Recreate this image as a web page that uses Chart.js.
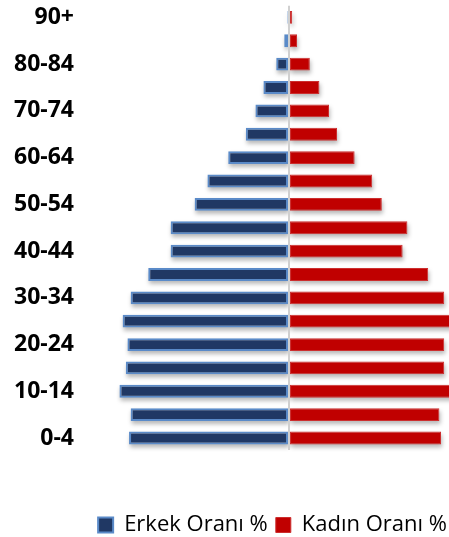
<!DOCTYPE html>
<html>
<head>
<meta charset="utf-8">
<script src="https://cdn.jsdelivr.net/npm/chart.js@4/dist/chart.umd.min.js"></script>
<style>
  html, body { margin: 0; padding: 0; background: #ffffff; }
  #wrap { width: 449px; height: 537px; }
</style>
</head>
<body>
<div id="wrap"><canvas id="c"></canvas></div>
<script>
// Age groups, youngest first
const ageGroups = ['0-4','5-9','10-14','15-19','20-24','25-29','30-34','35-39','40-44','45-49',
                   '50-54','55-59','60-64','65-69','70-74','75-79','80-84','85-89','90+'];
// Male share (%) – drawn to the left
const maleShare = [5.0, 4.95, 5.3, 5.1, 5.05, 5.2, 4.95, 4.4, 3.7, 3.7,
                   2.95, 2.55, 1.9, 1.35, 1.05, 0.8, 0.4, 0.15, 0.05];
// Female share (%) – drawn to the right
const femaleShare = [4.75, 4.7, 5.15, 4.85, 4.85, 5.1, 4.85, 4.35, 3.55, 3.7,
                     2.9, 2.6, 2.05, 1.5, 1.25, 0.95, 0.65, 0.25, 0.1];
const seriesNames = ['Erkek Oranı %', 'Kadın Oranı %'];

const shadowPlugin = {
  id: 'barShadow',
  beforeDatasetsDraw(chart) {
    const ctx = chart.ctx;
    ctx.save();
    ctx.filter = 'blur(2px)';
    ctx.fillStyle = 'rgba(0,0,0,0.28)';
    chart.data.datasets.forEach((ds, i) => {
      chart.getDatasetMeta(i).data.forEach(el => {
        const p = el.getProps(['x', 'y', 'base', 'height'], true);
        const l = Math.min(p.x, p.base), r = Math.max(p.x, p.base);
        ctx.fillRect(l + 1, p.y - p.height / 2 + 3, r - l, p.height);
      });
    });
    ctx.restore();
  }
};

new Chart(document.getElementById('c'), {
  type: 'bar',
  data: {
    labels: ageGroups,
    datasets: [
      {
        label: seriesNames[0],
        data: maleShare.map(v => -v),
        backgroundColor: '#203864',
        borderColor: '#5A8AC8',
        borderWidth: 2,
        borderSkipped: false,
        barPercentage: 0.55,
        categoryPercentage: 1
      },
      {
        label: seriesNames[1],
        data: femaleShare,
        backgroundColor: '#C00000',
        borderColor: '#CC2E2E',
        borderWidth: 1,
        borderSkipped: false,
        barPercentage: 0.55,
        categoryPercentage: 1
      }
    ]
  },
  options: {
    indexAxis: 'y',
    responsive: true,
    maintainAspectRatio: false,
    animation: false,
    layout: { padding: { left: 14, right: -6, top: 0, bottom: -9 } },
    scales: {
      x: {
        stacked: true,
        min: -6.72,
        max: 5.0,
        ticks: { display: false, stepSize: 1 },
        border: { display: false },
        grid: {
          z: 1,
          drawTicks: false,
          lineWidth: 2,
          color: ctx => (ctx.tick && ctx.tick.value === 0) ? '#D0D0D0' : 'rgba(0,0,0,0)'
        },
        afterFit: s => { s.height = 56.3; }
      },
      y: {
        stacked: true,
        reverse: true,
        border: { display: false },
        grid: { display: false, drawTicks: false },
        ticks: {
          autoSkip: false,
          padding: 0,
          color: '#000000',
          font: { family: 'Open Sans', weight: 'bold', size: 23, lineHeight: 0.5 },
          callback: function(value, index) { return index % 2 === 0 ? this.getLabelForValue(value) : ''; }
        }
      }
    },
    plugins: {
      tooltip: { enabled: false },
      legend: {
        position: 'bottom',
        align: 'end',
        labels: {
          boxWidth: 15,
          boxHeight: 15,
          padding: 8,
          color: '#000000',
          font: { family: 'Open Sans', size: 22 }
        }
      }
    }
  },
  plugins: [shadowPlugin]
});
</script>
</body>
</html>
